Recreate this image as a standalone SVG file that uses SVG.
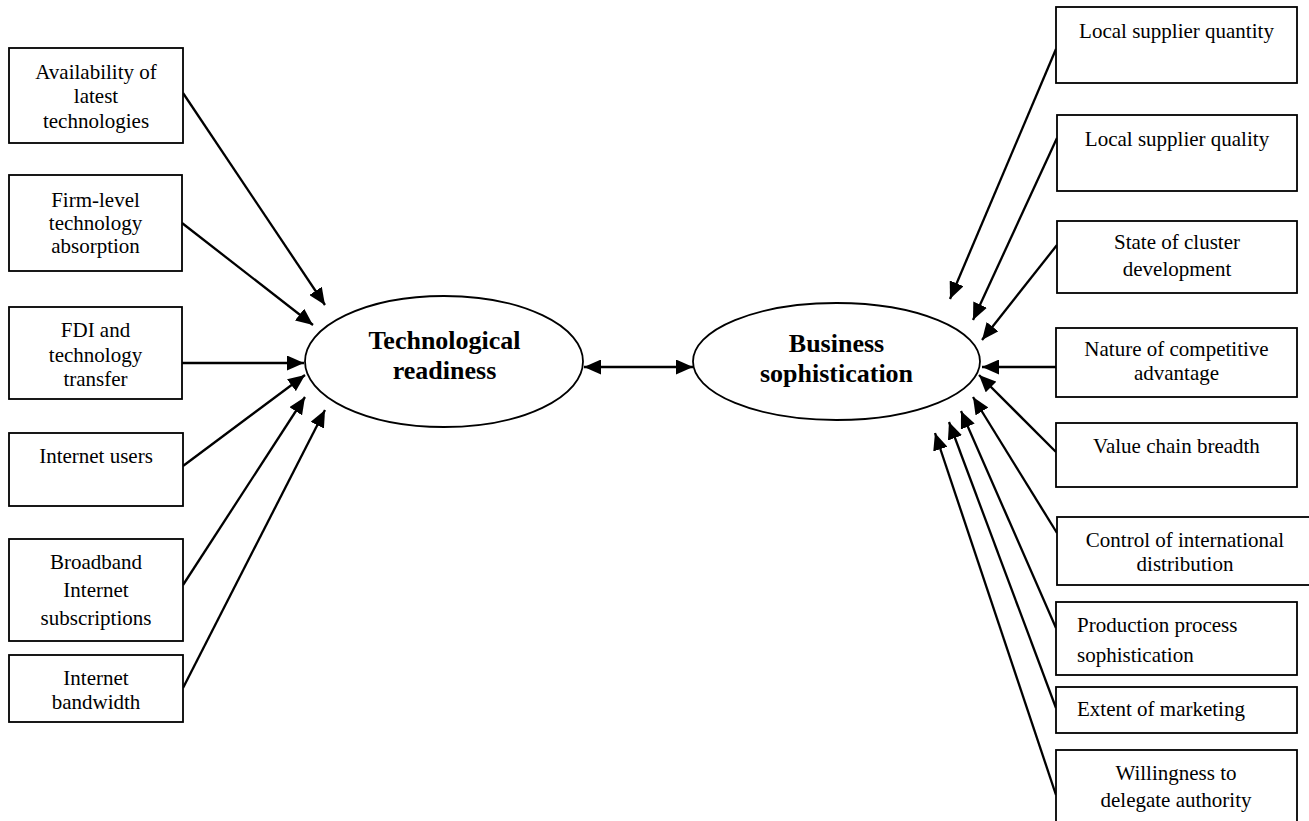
<svg xmlns="http://www.w3.org/2000/svg" width="1309" height="821" viewBox="0 0 1309 821">
<style>
.box{fill:#fff;stroke:#000;stroke-width:1.8}
.ell{fill:#fff;stroke:#000;stroke-width:1.8}
.t{font-family:"Liberation Serif","Times New Roman",serif;font-size:21px;fill:#000;text-anchor:middle}
.tl{font-family:"Liberation Serif","Times New Roman",serif;font-size:21px;fill:#000;text-anchor:start}
.tb{font-family:"Liberation Serif","Times New Roman",serif;font-size:26px;font-weight:bold;fill:#000;text-anchor:middle}
.c line{stroke:#000;stroke-width:2.3;marker-end:url(#ah)}
</style>
<defs>
<marker id="ah" markerUnits="userSpaceOnUse" markerWidth="17" markerHeight="15" refX="17" refY="7.5" orient="auto-start-reverse" viewBox="0 0 17 15">
<path d="M0,0 L17,7.5 L0,15 Z" fill="#000"/>
</marker>
</defs>
<rect width="1309" height="821" fill="#fff"/>

<g id="connectors" class="c">
<line x1="183" y1="93" x2="325" y2="305"/>
<line x1="182" y1="223" x2="313" y2="325"/>
<line x1="182" y1="363" x2="304" y2="363"/>
<line x1="183" y1="466" x2="305" y2="375"/>
<line x1="183" y1="585" x2="305" y2="397"/>
<line x1="183" y1="688" x2="325" y2="410"/>
<line x1="584" y1="367" x2="693" y2="367" style="marker-start:url(#ah)"/>
<line x1="1056" y1="49" x2="950" y2="299"/>
<line x1="1057" y1="138" x2="973" y2="320"/>
<line x1="1057" y1="245" x2="982" y2="340"/>
<line x1="1056" y1="367" x2="982" y2="367"/>
<line x1="1056" y1="452" x2="979" y2="375"/>
<line x1="1057" y1="533" x2="973" y2="397"/>
<line x1="1056" y1="628" x2="961" y2="411"/>
<line x1="1056" y1="708" x2="949" y2="422"/>
<line x1="1056" y1="795" x2="935" y2="433"/>
</g>

<g id="tech-readiness">
<ellipse class="ell" cx="444" cy="361.5" rx="139" ry="65.5"/>
<text class="tb" x="444.5" y="349">Technological</text>
<text class="tb" x="444.5" y="379">readiness</text>
</g>
<g id="business-soph">
<ellipse class="ell" cx="836.5" cy="361.5" rx="143.5" ry="58.5"/>
<text class="tb" x="836.5" y="352">Business</text>
<text class="tb" x="836.5" y="382">sophistication</text>
</g>

<g id="l1"><rect class="box" x="9" y="48" width="174" height="95"/>
<text class="t" x="96" y="79">Availability of</text><text class="t" x="96" y="103">latest</text><text class="t" x="96" y="128">technologies</text></g>
<g id="l2"><rect class="box" x="9" y="175" width="173" height="96"/>
<text class="t" x="95.5" y="207">Firm-level</text><text class="t" x="95.5" y="230">technology</text><text class="t" x="95.5" y="253">absorption</text></g>
<g id="l3"><rect class="box" x="9" y="307" width="173" height="92"/>
<text class="t" x="95.5" y="337">FDI and</text><text class="t" x="95.5" y="362">technology</text><text class="t" x="95.5" y="386">transfer</text></g>
<g id="l4"><rect class="box" x="9" y="433" width="174" height="73"/>
<text class="t" x="96" y="463">Internet users</text></g>
<g id="l5"><rect class="box" x="9" y="539" width="174" height="102"/>
<text class="t" x="96" y="569">Broadband</text><text class="t" x="96" y="597">Internet</text><text class="t" x="96" y="625">subscriptions</text></g>
<g id="l6"><rect class="box" x="9" y="655" width="174" height="67"/>
<text class="t" x="96" y="685">Internet</text><text class="t" x="96" y="709">bandwidth</text></g>

<g id="r1"><rect class="box" x="1056" y="7" width="241" height="76"/>
<text class="t" x="1176.5" y="38">Local supplier quantity</text></g>
<g id="r2"><rect class="box" x="1057" y="115" width="240" height="76"/>
<text class="t" x="1177" y="146">Local supplier quality</text></g>
<g id="r3"><rect class="box" x="1057" y="221" width="240" height="72"/>
<text class="t" x="1177" y="249">State of cluster</text><text class="t" x="1177" y="276">development</text></g>
<g id="r4"><rect class="box" x="1056" y="328" width="241" height="69"/>
<text class="t" x="1176.5" y="356">Nature of competitive</text><text class="t" x="1176.5" y="380">advantage</text></g>
<g id="r5"><rect class="box" x="1056" y="423" width="241" height="64"/>
<text class="t" x="1176.5" y="453">Value chain breadth</text></g>
<g id="r6"><rect class="box" x="1057" y="517" width="262" height="68"/>
<text class="t" x="1185" y="547">Control of international</text><text class="t" x="1185" y="571">distribution</text></g>
<g id="r7"><rect class="box" x="1056" y="602" width="241" height="73"/>
<text class="tl" x="1077" y="632">Production process</text><text class="tl" x="1077" y="662">sophistication</text></g>
<g id="r8"><rect class="box" x="1056" y="687" width="241" height="46"/>
<text class="tl" x="1077" y="716">Extent of marketing</text></g>
<g id="r9"><rect class="box" x="1056" y="750" width="241" height="80"/>
<text class="t" x="1176" y="780">Willingness to</text><text class="t" x="1176" y="807">delegate authority</text></g>
</svg>
